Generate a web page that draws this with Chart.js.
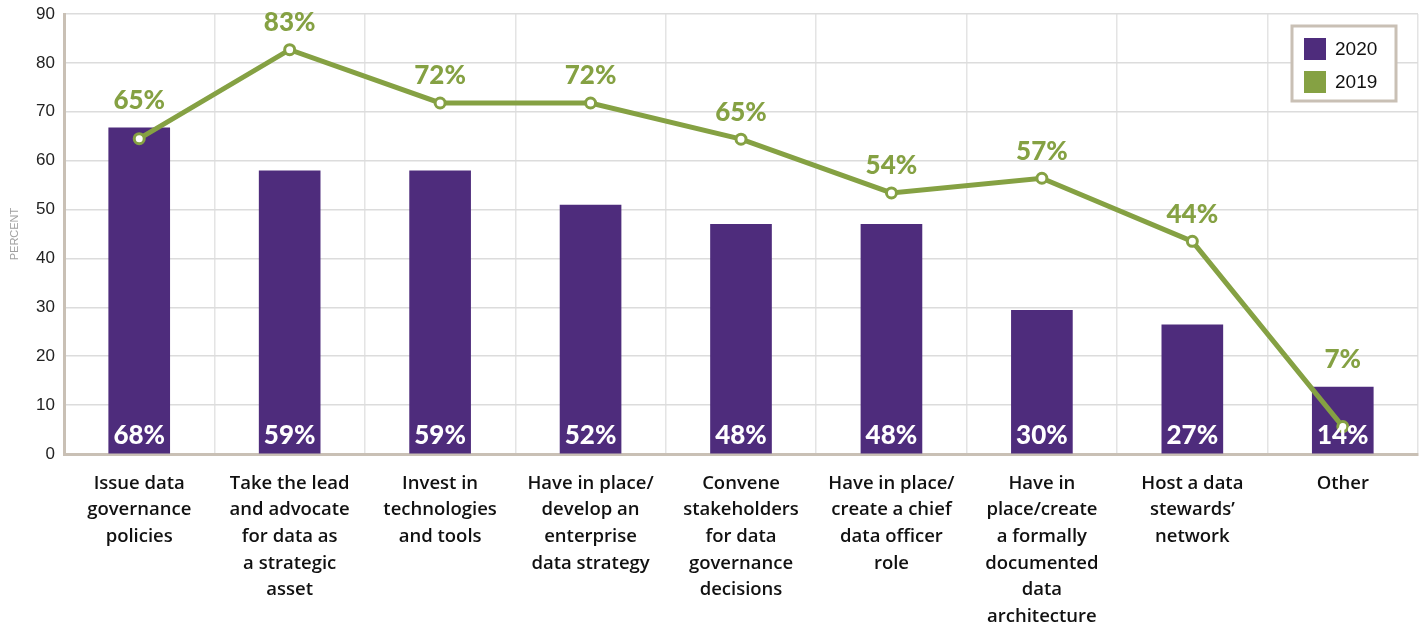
<!DOCTYPE html>
<html>
<head>
<meta charset="utf-8">
<script src="https://cdn.jsdelivr.net/npm/chart.js@4/dist/chart.umd.min.js"></script>
<style>
  html, body { margin: 0; padding: 0; background: #fff; }
  #wrap { width: 1426px; height: 624px; position: relative; }
</style>
</head>
<body>
<div id="wrap"><canvas id="chart" width="1426" height="624"></canvas></div>
<script>
// categories (multi-line)
const categories = [
    ["Issue data", "governance", "policies"],
    ["Take the lead", "and advocate", "for data as", "a strategic", "asset"],
    ["Invest in", "technologies", "and tools"],
    ["Have in place/", "develop an", "enterprise", "data strategy"],
    ["Convene", "stakeholders", "for data", "governance", "decisions"],
    ["Have in place/", "create a chief", "data officer", "role"],
    ["Have in", "place/create", "a formally", "documented", "data", "architecture"],
    ["Host a data", "stewards\u2019", "network"],
    ["Other"]
];

// bar heights as drawn, and the printed labels
const values2020 = [66.7, 57.9, 57.9, 50.9, 47.0, 47.0, 29.4, 26.4, 13.7];
const labels2020 = ["68%", "59%", "59%", "52%", "48%", "48%", "30%", "27%", "14%"];

// line points as drawn, and the printed labels
const values2019 = [64.5, 82.7, 71.8, 71.8, 64.4, 53.4, 56.4, 43.5, 5.6];
const labels2019 = ["65%", "83%", "72%", "72%", "65%", "54%", "57%", "44%", "7%"];

const yTicks = [0, 10, 20, 30, 40, 50, 60, 70, 80, 90];

const PURPLE = "#4e2c7c";
const GREEN = "#85a143";
const TAN = "#c9c0b5";

const valueLabels = {
    id: "valueLabels",
    afterDatasetsDraw(chart) {
        const ctx = chart.ctx;
        const bars = chart.getDatasetMeta(1).data;
        const pts = chart.getDatasetMeta(0).data;
        ctx.save();
        ctx.textAlign = "center";
        ctx.textBaseline = "middle";
        ctx.font = "900 26px Lato";
        ctx.fillStyle = "#ffffff";
        bars.forEach((b, i) => {
            ctx.fillText(labels2020[i], b.x, chart.chartArea.bottom - 18);
        });
        ctx.fillStyle = GREEN;
        pts.forEach((p, i) => {
            const top = Math.min(p.y, bars[i].y);
            ctx.fillText(labels2019[i], p.x, top - 27);
        });
        ctx.restore();
    }
};

const boxLegend = {
    id: "boxLegend",
    afterDraw(chart) {
        const ctx = chart.ctx;
        const x = 1292, y = 26, w = 104, h = 75;
        ctx.save();
        ctx.fillStyle = "#fff";
        ctx.fillRect(x, y, w, h);
        ctx.strokeStyle = TAN;
        ctx.lineWidth = 3;
        ctx.strokeRect(x, y, w, h);
        const items = [["2020", PURPLE], ["2019", GREEN]];
        ctx.font = "19px 'Liberation Sans'";
        ctx.textBaseline = "middle";
        items.forEach((it, i) => {
            const cy = y + 23 + i * 33;
            ctx.fillStyle = it[1];
            ctx.fillRect(x + 12, cy - 11, 22, 22);
            ctx.fillStyle = "#111";
            ctx.fillText(it[0], x + 43, cy + 1);
        });
        ctx.restore();
    }
};

new Chart(document.getElementById("chart"), {
    data: {
        labels: categories,
        datasets: [
            {
                type: "line",
                label: "2019",
                data: values2019,
                borderColor: GREEN,
                borderWidth: 5,
                pointRadius: 5,
                pointBorderWidth: 3,
                pointBackgroundColor: "#fff",
                pointBorderColor: GREEN,
                tension: 0,
                order: 0
            },
            {
                type: "bar",
                label: "2020",
                data: values2020,
                backgroundColor: PURPLE,
                barThickness: 61,
                order: 1
            }
        ]
    },
    options: {
        responsive: false,
        animation: false,
        devicePixelRatio: 1,
        layout: { padding: { top: 14, right: 6, left: 0, bottom: 0 } },
        plugins: {
            legend: { display: false },
            tooltip: { enabled: false }
        },
        scales: {
            x: {
                offset: true,
                grid: { offset: true, color: "#e4e4e4", lineWidth: 1.5, drawTicks: false },
                border: { color: TAN, width: 3 },
                ticks: {
                    maxRotation: 0,
                    autoSkip: false,
                    padding: 16,
                    color: "#111",
                    font: { family: "'Open Sans'", size: 18.5, weight: "600", lineHeight: 1.44 }
                },
                afterFit(scale) { scale.height = 170; scale.paddingLeft = 0; scale.paddingRight = 0; }
            },
            y: {
                min: 0,
                max: 90,
                afterBuildTicks(scale) { scale.ticks = yTicks.map(v => ({ value: v })); },
                grid: { color: "#dcdcdc", lineWidth: 1.5, drawTicks: false },
                border: { color: TAN, width: 3 },
                ticks: {
                    padding: 9,
                    color: "#222",
                    font: { family: "'Liberation Sans'", size: 17 }
                },
                title: {
                    display: true,
                    text: "PERCENT",
                    color: "#a0a0a0",
                    padding: { top: 8, bottom: 4 },
                    font: { family: "'Liberation Sans'", size: 11 }
                },
                afterFit(scale) { scale.width = 64; scale.paddingTop = 0; scale.paddingBottom = 0; }
            }
        }
    },
    plugins: [valueLabels, boxLegend]
});
</script>
</body>
</html>
